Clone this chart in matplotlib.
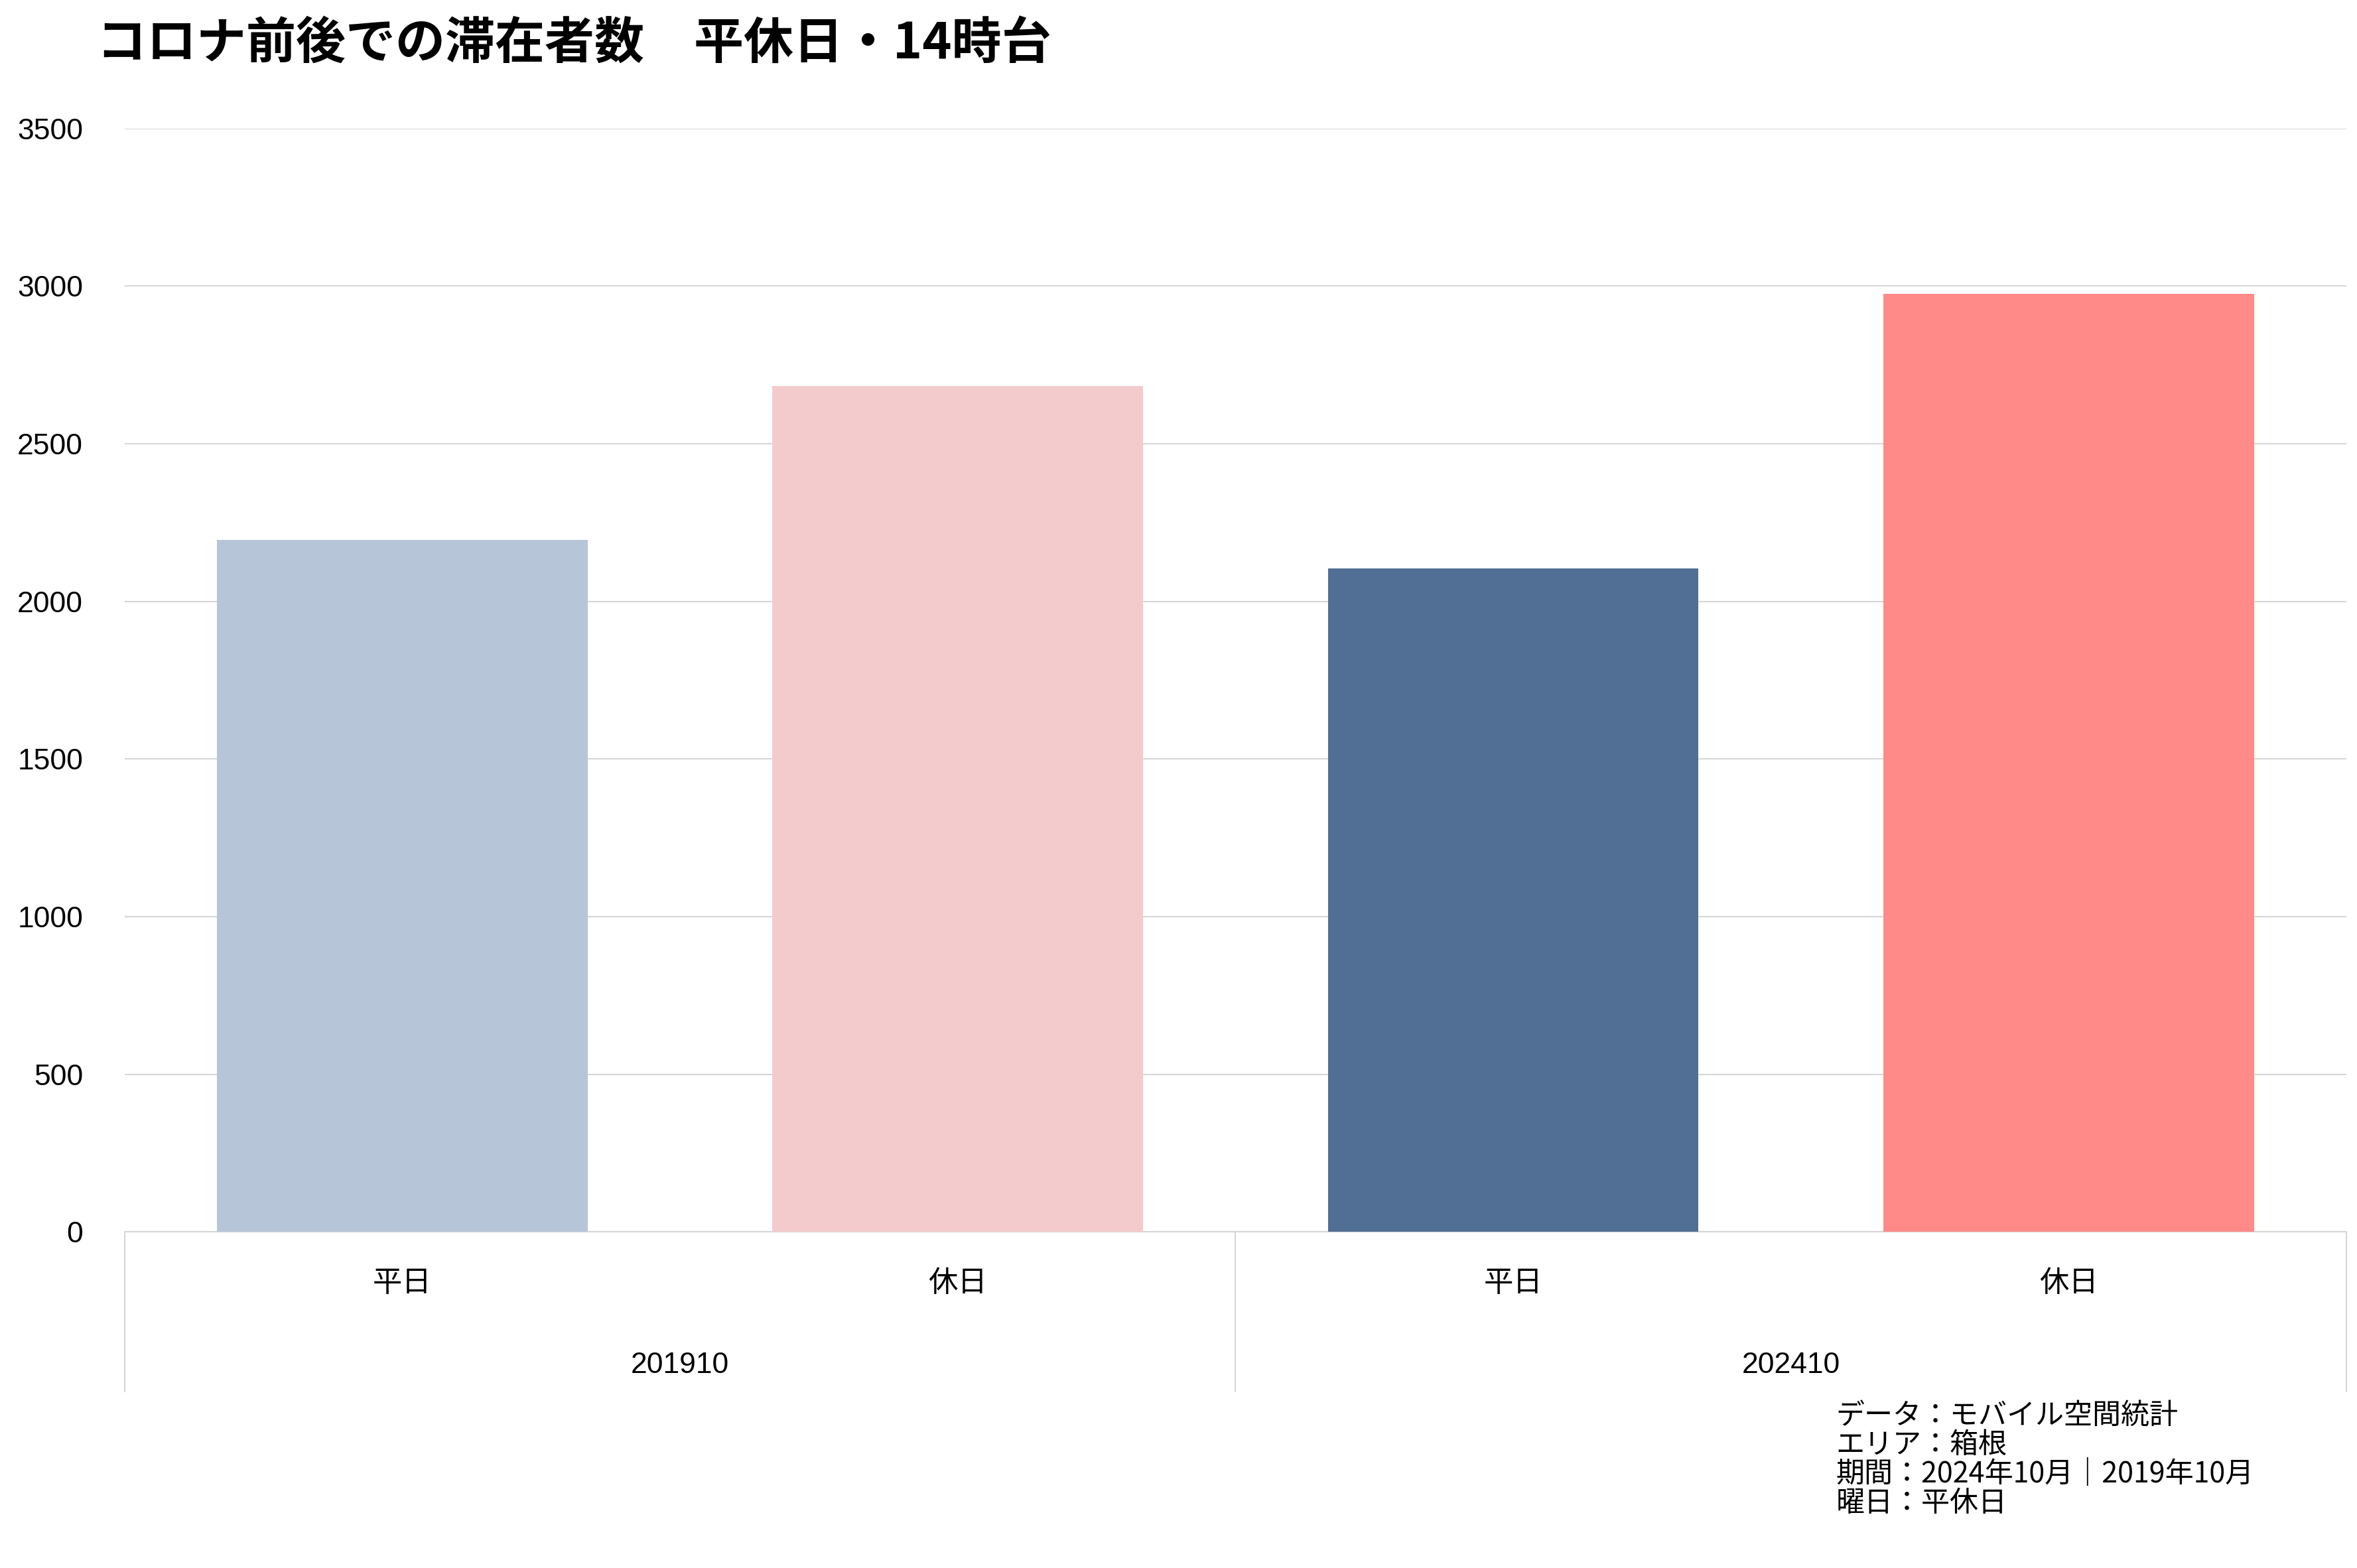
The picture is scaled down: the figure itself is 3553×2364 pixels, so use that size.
import matplotlib.pyplot as plt
import matplotlib.transforms as mtransforms

plt.rcParams['font.family'] = ['Liberation Sans', 'Noto Sans CJK JP', 'DejaVu Sans']

# data
periods = ['201910', '202410']
day_types = ['平日', '休日']
values = [2195, 2683, 2104, 2975]
colors = ['#b7c5d8', '#f4cbcc', '#516f94', '#ff8a88']
title = 'コロナ前後での滞在者数　平休日・14時台'
notes = ['データ：モバイル空間統計', 'エリア：箱根', '期間：2024年10月｜2019年10月', '曜日：平休日']

fig = plt.figure(figsize=(35.53, 23.64), dpi=100)
ax = fig.add_axes([0.0528, 0.2144, 0.9427, 0.7036])

x = list(range(len(values)))
ax.bar(x, values, width=0.667, color=colors, zorder=3)
ax.set_xlim(-0.5, len(values) - 0.5)
ax.set_ylim(0, 3500)
ax.set_yticks(range(0, 3501, 500))
ax.tick_params(axis='y', labelsize=32, length=0, pad=45)
ax.set_xticks([])
ax.grid(axis='y', color='#d6d6d6', linewidth=1.5, zorder=0)
for s in ['top', 'right', 'left']:
    ax.spines[s].set_visible(False)
ax.spines['bottom'].set_color('#d6d6d6')
ax.spines['bottom'].set_linewidth(1.5)

trans = mtransforms.blended_transform_factory(ax.transData, ax.transAxes)
for i, v in enumerate(values):
    ax.text(i, -0.047, day_types[i % 2], transform=trans, ha='center', va='center', fontsize=32)
for g, p in enumerate(periods):
    ax.text(g * 2 + 0.5, -0.121, p, transform=trans, ha='center', va='center', fontsize=32)
for xv in [-0.5, 1.5, 3.5]:
    ax.plot([xv, xv], [0, -0.145], transform=trans, color='#d6d6d6', lw=1.5, clip_on=False)

fig.text(0.041, 0.972, title, fontsize=54, fontweight='bold', ha='left', va='center',
         family=['Noto Sans CJK JP', 'DejaVu Sans'])
fig.text(0.779, 0.069, '\n'.join(notes), fontsize=31, ha='left', va='center', linespacing=1.0,
         family=['Noto Sans CJK JP', 'DejaVu Sans'])

fig.savefig('out.png', dpi=100)
